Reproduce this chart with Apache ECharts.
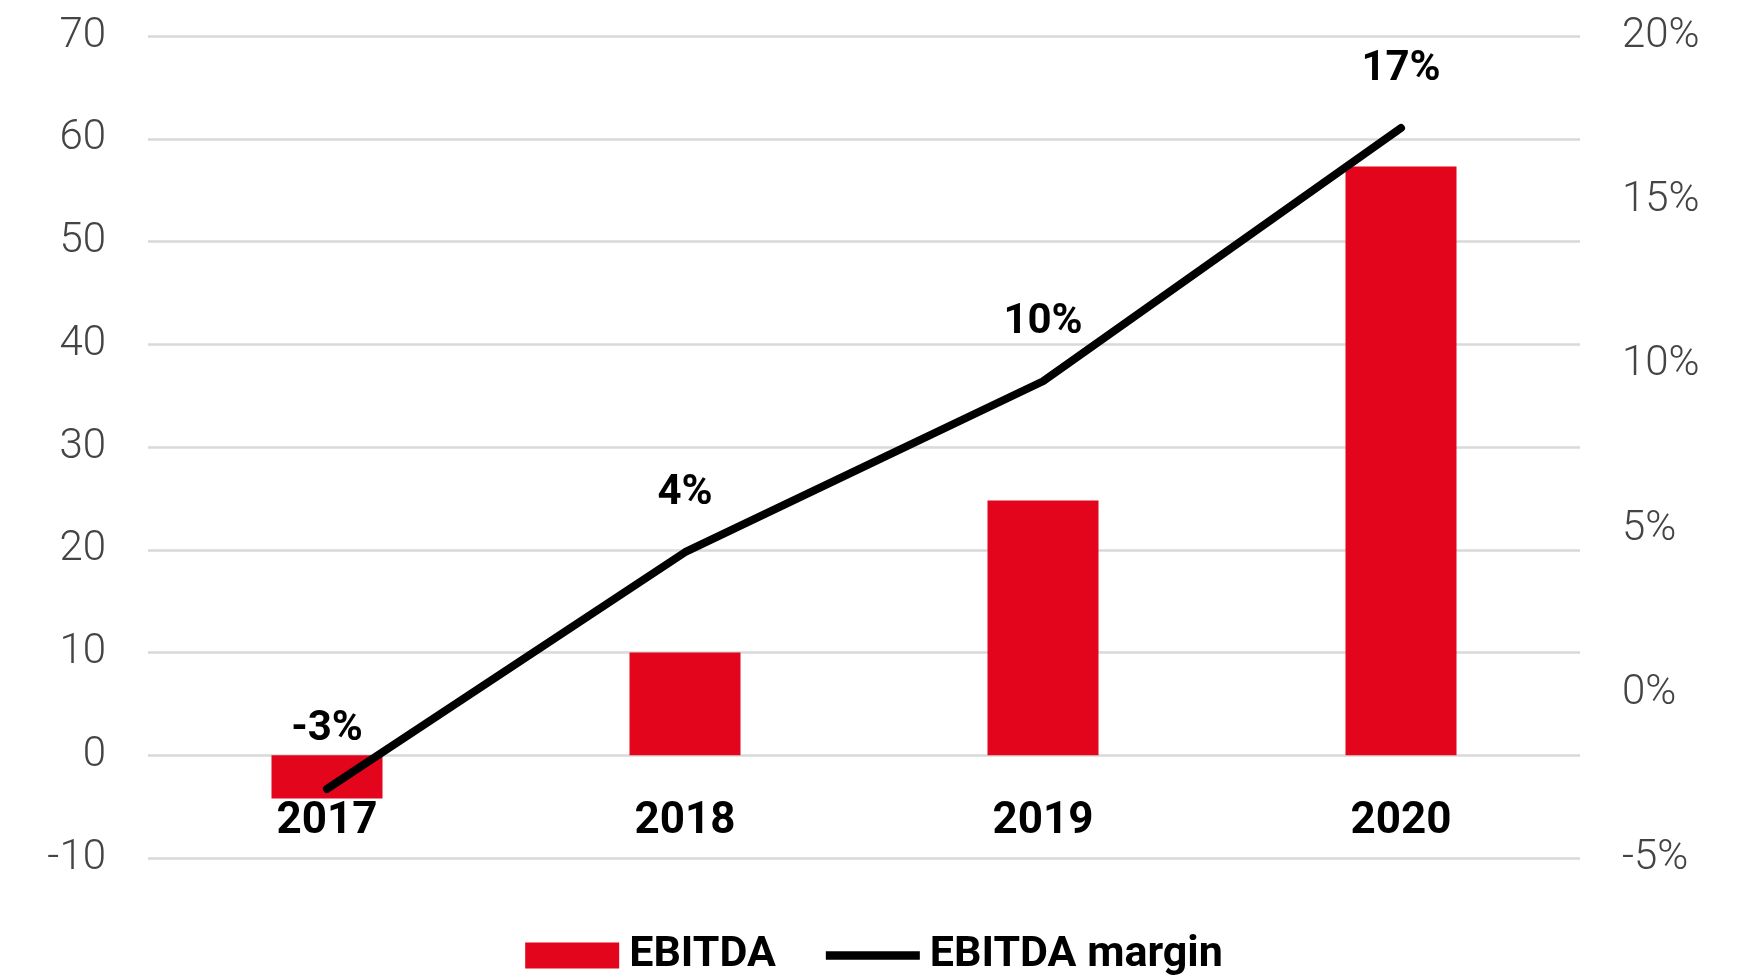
<!DOCTYPE html>
<html>
<head>
<meta charset="utf-8">
<title>EBITDA</title>
<script src="https://cdn.jsdelivr.net/npm/echarts@6/dist/echarts.min.js"></script>
<style>
  html, body { margin: 0; padding: 0; background: #fff; }
  #main { width: 1748px; height: 977px; }
</style>
</head>
<body>
<div id="main"></div>
<script>
// 数据
const years = ["2017", "2018", "2019", "2020"];
const ebitda = [-4.2, 10.0, 24.8, 57.3];
const margin = [-2.9, 4.3, 9.5, 17.2];
const leftTicks = { min: -10, max: 70, interval: 10 };
const rightTicks = { min: -5, max: 20, interval: 5 };

const RED = "#e2051b";
const FONT = "Roboto";
const GRID = { left: 148, right: 168, top: 36, bottom: 119 };
const H = 977;

// x 轴标签贴在 0 刻度线下方：算出 0 到网格底部的距离
const plotH = H - GRID.top - GRID.bottom;
const zeroOffset = plotH * (0 - leftTicks.min) / (leftTicks.max - leftTicks.min);

const myChart = echarts.init(document.getElementById("main"));

const option = {
  backgroundColor: "#fff",
  animation: false,
  textStyle: { fontFamily: FONT },
  grid: GRID,
  legend: {
    top: 929,
    left: "center",
    itemWidth: 94,
    itemHeight: 26,
    itemGap: 50,
    textStyle: { fontSize: 43, fontWeight: "bold", color: "#000", fontFamily: FONT, padding: [0, 0, 0, 5] },
    data: [
      { name: "EBITDA", icon: "rect" },
      { name: "EBITDA margin", icon: "path://M0,0 H100 V9 H0 Z" },
    ],
  },
  xAxis: {
    type: "category",
    data: years,
    offset: -zeroOffset,
    axisLine: { show: false, onZero: false },
    axisTick: { show: false },
    axisLabel: { fontSize: 44, fontWeight: "bold", color: "#000", margin: 45 },
  },
  yAxis: [
    {
      type: "value",
      min: leftTicks.min,
      max: leftTicks.max,
      interval: leftTicks.interval,
      axisLine: { show: false },
      axisTick: { show: false },
      axisLabel: { fontSize: 42, fontWeight: 300, color: "#444", margin: 42 },
      splitLine: { lineStyle: { color: "#d9d9d9", width: 2.5 } },
    },
    {
      type: "value",
      min: rightTicks.min,
      max: rightTicks.max,
      interval: rightTicks.interval,
      axisLine: { show: false },
      axisTick: { show: false },
      splitLine: { show: false },
      axisLabel: { fontSize: 42, fontWeight: 300, color: "#444", margin: 42, formatter: "{value}%" },
    },
  ],
  series: [
    {
      name: "EBITDA",
      type: "bar",
      data: ebitda,
      barWidth: 111,
      itemStyle: { color: RED },
      z: 2,
    },
    {
      name: "EBITDA margin",
      type: "line",
      yAxisIndex: 1,
      data: margin,
      symbol: "circle",
      symbolSize: 0,
      showSymbol: true,
      color: "#000",
      itemStyle: { color: "#000" },
      lineStyle: { color: "#000", width: 8, cap: "round", join: "round" },
      label: {
        show: true,
        position: "top",
        distance: 38,
        fontSize: 42,
        fontWeight: "bold",
        color: "#000",
        formatter: (p) => Math.round(p.value) + "%",
      },
      z: 3,
    },
  ],
};

myChart.setOption(option);
window.addEventListener("resize", function () {
  myChart.resize();
});
</script>
</body>
</html>
